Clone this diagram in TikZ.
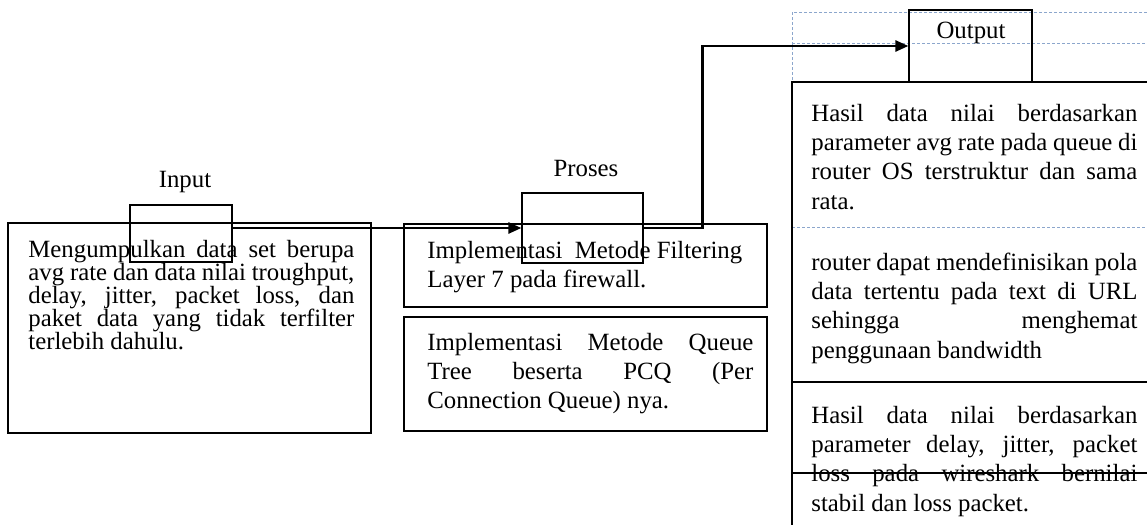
\documentclass[tikz,border=0pt]{standalone}
\usepackage{fontspec}
\setmainfont{Liberation Serif}
\usetikzlibrary{arrows.meta, fit, positioning}
\definecolor{gridblue}{RGB}{140,166,204}

\begin{document}
\begin{tikzpicture}[x=0.5pt, y=-0.5pt,
    box/.style={draw, line width=0.65pt, inner sep=0pt},
    tab/.style={draw, line width=0.6pt, inner sep=0pt},
    grid/.style={gridblue, line width=0.5pt, dash pattern=on 1.5pt off 1pt},
    txt/.style={anchor=base west, inner sep=0pt, text width=163pt,
                align=justify, font=\fontsize{12.4}{14.7}\selectfont},
    tight/.style={font=\fontsize{12.4}{11.5}\selectfont},
    head/.style={anchor=base, inner sep=0pt, font=\fontsize{12.4}{14}\selectfont},
    arrow/.style={-{Triangle[length=6.5pt, width=5.5pt]}, line width=1.3pt},
  ]
  \useasboundingbox (0,0) rectangle (1147,525);

  % ── Input ───────────────────────────────────────────────────────────
  \node[head] (inHead) at (185,187) {Input};
  \node[box, fit={(8,223) (371,433)}] (inBox) {};
  \node[txt, tight] (inTxt) at (28,257)
    {Mengumpulkan data set berupa\linebreak
     avg rate dan data nilai troughput,\linebreak
     delay, jitter, packet loss, dan\linebreak
     paket data yang tidak terfilter\linebreak
     terlebih dahulu.};
  \node[tab, fit={(130,205) (232,262)}] (inTab) {};

  % ── Proses ──────────────────────────────────────────────────────────
  \node[head] (prHead) at (586,176) {Proses};
  \node[box, fit={(404,224) (767,307)}] (filBox) {};
  \node[txt] (filTxt) at (427,258)
    {Implementasi\ \ Metode Filtering\\
     Layer 7 pada firewall.};
  \node[box, fit={(404,317) (767,431)}] (qBox) {};
  \node[txt] (qTxt) at (427,350)
    {Implementasi Metode Queue\linebreak
     Tree beserta PCQ (Per\linebreak
     Connection Queue) nya.};
  \node[tab, fit={(522,193) (643,263)}] (prTab) {};

  % ── Output (table grid + result column) ─────────────────────────────
  \draw[grid] (1147,12) -- (792,12) -- (792,82);
  \draw[grid] (792,43) -- (1147,43);
  \draw[grid] (792,227) -- (1147,227);
  \node[tab, fit={(909,10) (1032,82)}] (outTab) {};
  \node[head] (outHead) at (971,38) {Output};

  \node[box, fit={(792,82) (1170,545)}] (outCol) {};
  \draw[box] (outCol.west |- 0,382) -- (1147,382);
  \draw[box] (outCol.west |- 0,473) -- (1147,473);

  \node[txt] (resA) at (811,121)
    {Hasil data nilai berdasarkan\linebreak
     parameter avg rate pada queue di\linebreak
     router OS terstruktur dan sama\linebreak
     rata.};
  \node[txt] (resB) at (811,270)
    {router dapat mendefinisikan pola\linebreak
     data tertentu pada text di URL\linebreak
     sehingga menghemat\linebreak
     penggunaan bandwidth};
  \node[txt] (resC) at (811,423)
    {Hasil data nilai berdasarkan\linebreak
     parameter delay, jitter, packet\linebreak
     loss pada wireshark bernilai\linebreak
     stabil dan loss packet.};

  % ── Connectors ──────────────────────────────────────────────────────
  \draw[arrow] (inTab.east |- prTab.west) -- (prTab.west);
  \draw[arrow] (prTab.east) -- ++(59,0) |- (outTab.west);

\end{tikzpicture}
\end{document}
